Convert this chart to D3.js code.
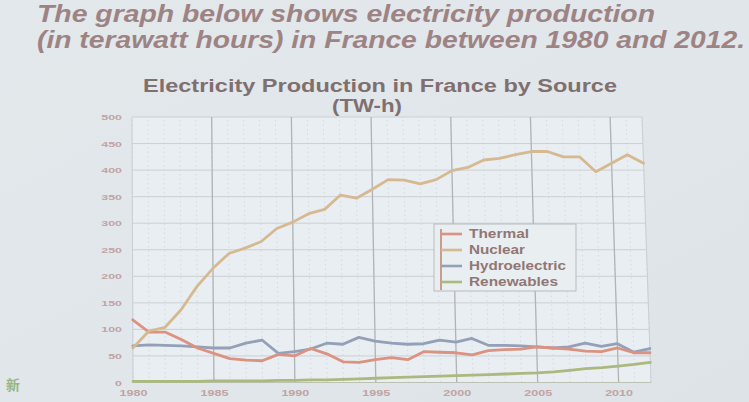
<!DOCTYPE html>
<html><head><meta charset="utf-8">
<script src="https://cdn.jsdelivr.net/npm/d3@7"></script>
<style>
body{margin:0;background:#e1e7ea;}
svg{display:block}
</style>
</head><body>
<svg id="c" width="749" height="402"></svg>
<script>
// ---- data (TWh) ----
const years = [1980,1981,1982,1983,1984,1985,1986,1987,1988,1989,1990,1991,1992,1993,1994,1995,1996,1997,1998,1999,2000,2001,2002,2003,2004,2005,2006,2007,2008,2009,2010,2011,2012];
const thermal = [118,95,95,81,65,55,45,42,41,53,50,64,54,39,38,43,47,43,58,57,56,52,60,62,63,67,65,63,59,58,65,56,56];
const nuclear = [65,97,104,137,181,215,243,253,265,290,302,318,326,353,347,364,382,381,374,382,399,405,419,422,429,435,435,425,425,397,413,429,413];
const hydro = [69,71,70,69,67,65,65,74,80,55,58,63,74,72,85,78,74,72,73,80,76,83,70,70,69,67,65,67,74,68,73,57,64];
const renewables = [2,2,2,2,2,3,3,3,3,4,4,5,5,6,7,8,9,10,11,12,13,14,15,16,17,18,20,23,26,28,31,34,38];
const seriesNames = ["Thermal","Nuclear","Hydroelectric","Renewables"];
const yTicks = [0,50,100,150,200,250,300,350,400,450,500];
const xTicks = [1980,1985,1990,1995,2000,2005,2010];
const headingLines = ["The graph below shows electricity production","(in terawatt hours) in France between 1980 and 2012."];
const chartTitle = ["Electricity Production in France by Source","(TW-h)"];

// ---- styling ----
const colors = {"Thermal":"#dc9281","Nuclear":"#d7b991","Hydroelectric":"#93a0b8","Renewables":"#abb97f"};
const seriesData = {"Thermal":thermal,"Nuclear":nuclear,"Hydroelectric":hydro,"Renewables":renewables};

const svg = d3.select("#c");
const defs = svg.append("defs");
const bg = defs.append("linearGradient").attr("id","bg").attr("x1",0).attr("y1",0).attr("x2",1).attr("y2",1);
bg.append("stop").attr("offset","0%").attr("stop-color","#e3e8eb");
bg.append("stop").attr("offset","60%").attr("stop-color","#e0e6ea");
bg.append("stop").attr("offset","100%").attr("stop-color","#dde3e6");
svg.append("rect").attr("width",749).attr("height",402).attr("fill","url(#bg)");
defs.append("filter").attr("id","soft").append("feGaussianBlur").attr("stdDeviation",0.35);

// scales (slight keystone of the photo: top row narrower than bottom row)
const y = d3.scaleLinear().domain([0,500]).range([382.5,117]);
const xB = d3.scaleLinear().domain([1980,2012]).range([133,651]);
const xT = d3.scaleLinear().domain([1980,2012]).range([132,642]);
function px(yr, v){
  const t = (y(0)-y(v))/(y(0)-y(500));
  return xB(yr) + (xT(yr)-xB(yr))*t;
}

// plot background
const x0 = years[0], x1 = years[years.length-1];
svg.append("polygon")
  .attr("points",[[px(x0,0),y(0)],[px(x0,500),y(500)],[px(x1,500),y(500)],[px(x1,0),y(0)]].map(p=>p.join(",")).join(" "))
  .attr("fill","#e8eef1");

const grid = svg.append("g");
// minor vertical dotted lines every year
grid.selectAll("line.minor").data(years).join("line")
  .attr("x1",d=>px(d,0)).attr("y1",y(0)).attr("x2",d=>px(d,500)).attr("y2",y(500))
  .attr("stroke","#cfd5d9").attr("stroke-width",0.8).attr("stroke-dasharray","1.5,3");
// horizontal gridlines
grid.selectAll("line.h").data(yTicks).join("line")
  .attr("x1",d=>px(x0,d)).attr("y1",d=>y(d)).attr("x2",d=>px(x1,d)).attr("y2",d=>y(d))
  .attr("stroke","#cad0d3").attr("stroke-width",1);
// major vertical lines
grid.selectAll("line.major").data(xTicks.filter(d=>d!==1980)).join("line")
  .attr("x1",d=>px(d,0)).attr("y1",y(0)).attr("x2",d=>px(d,500)).attr("y2",y(500))
  .attr("stroke","#b0b4b7").attr("stroke-width",1.3);
// borders
grid.append("line").attr("x1",px(x0,0)).attr("y1",y(0)).attr("x2",px(x0,500)).attr("y2",y(500)).attr("stroke","#c8ced2");
grid.append("line").attr("x1",px(x1,0)).attr("y1",y(0)).attr("x2",px(x1,500)).attr("y2",y(500)).attr("stroke","#c8ced2");
grid.append("line").attr("x1",px(x0,0)).attr("y1",y(0)).attr("x2",px(x1,0)).attr("y2",y(0)).attr("stroke","#bcc2b4").attr("stroke-width",1.2);

// axes
const yAxis = d3.axisLeft(y).tickValues(yTicks).tickSize(0).tickPadding(0);
const gy = svg.append("g").attr("transform","translate(122,0)").call(yAxis);
gy.select(".domain").remove();
gy.selectAll("text")
  .attr("font-family","Liberation Sans, Arial, sans-serif").attr("font-weight","bold")
  .attr("font-size","8px").attr("fill","#c2a3a3")
  .attr("textLength",d=>String(d).length*6.9).attr("lengthAdjust","spacingAndGlyphs");

const xAxis = d3.axisBottom(xB).tickValues(xTicks).tickFormat(d3.format("d")).tickSize(0).tickPadding(7);
const gx = svg.append("g").attr("transform",`translate(0,${y(0)})`).call(xAxis);
gx.select(".domain").remove();
gx.selectAll("text")
  .attr("font-family","Liberation Sans, Arial, sans-serif").attr("font-weight","bold")
  .attr("font-size","8.5px").attr("fill","#c2a3a3")
  .attr("textLength",28).attr("lengthAdjust","spacingAndGlyphs");

// lines
const line = d3.line().x(d=>px(d.year,d.v)).y(d=>y(d.v));
const lineG = svg.append("g").attr("filter","url(#soft)");
["Renewables","Hydroelectric","Thermal","Nuclear"].forEach(name=>{
  const pts = years.map((yr,i)=>({year:yr, v:seriesData[name][i]}));
  lineG.append("path").datum(pts).attr("d",line)
    .attr("fill","none").attr("stroke",colors[name]).attr("stroke-width",2.8)
    .attr("stroke-linejoin","round").attr("stroke-linecap","round");
});

// legend
const lg = svg.append("g");
lg.append("rect").attr("x",434).attr("y",224).attr("width",142).attr("height",67)
  .attr("fill","#e9eef1").attr("stroke","#b8bbbd").attr("stroke-width",1);
const legY = d3.scalePoint().domain(seriesNames).range([234,282]);
lg.append("line").attr("x1",441).attr("x2",441).attr("y1",229).attr("y2",290)
  .attr("stroke","#c99c8f").attr("stroke-width",2);
const legLen = {"Thermal":60,"Nuclear":56,"Hydroelectric":97,"Renewables":89};
seriesNames.forEach(name=>{
  lg.append("line").attr("x1",441).attr("x2",462).attr("y1",legY(name)).attr("y2",legY(name))
    .attr("stroke",colors[name]).attr("stroke-width",2.6);
  lg.append("text").attr("x",469).attr("y",legY(name)).attr("dy","0.36em")
    .attr("font-family","Liberation Sans, Arial, sans-serif").attr("font-weight","bold")
    .attr("font-size","12px").attr("fill","#927676")
    .attr("textLength",legLen[name]).attr("lengthAdjust","spacingAndGlyphs")
    .text(name);
});

// titles
svg.append("text").attr("x",380).attr("y",92).attr("text-anchor","middle")
  .attr("font-family","Liberation Sans, Arial, sans-serif").attr("font-weight","bold")
  .attr("font-size","18.5px").attr("fill","#806f6f")
  .attr("textLength",474).attr("lengthAdjust","spacingAndGlyphs").text(chartTitle[0]);
svg.append("text").attr("x",367).attr("y",112).attr("text-anchor","middle")
  .attr("font-family","Liberation Sans, Arial, sans-serif").attr("font-weight","bold")
  .attr("font-size","18.5px").attr("fill","#806f6f")
  .attr("textLength",70).attr("lengthAdjust","spacingAndGlyphs").text(chartTitle[1]);

const hl = [[37,22,618],[37,48,708]];
headingLines.forEach((t,i)=>{
  svg.append("text").attr("x",hl[i][0]).attr("y",hl[i][1])
    .attr("font-family","Liberation Sans, Arial, sans-serif").attr("font-weight","bold")
    .attr("font-style","italic").attr("font-size","24px").attr("fill","#9e8384")
    .attr("textLength",hl[i][2]).attr("lengthAdjust","spacingAndGlyphs").text(t);
});

svg.append("text").attr("x",6).attr("y",390)
  .attr("font-family","Noto Sans CJK SC, sans-serif").attr("font-size","14px")
  .attr("font-weight","bold").attr("fill","#9ab583").text("新");
</script>
</body></html>
